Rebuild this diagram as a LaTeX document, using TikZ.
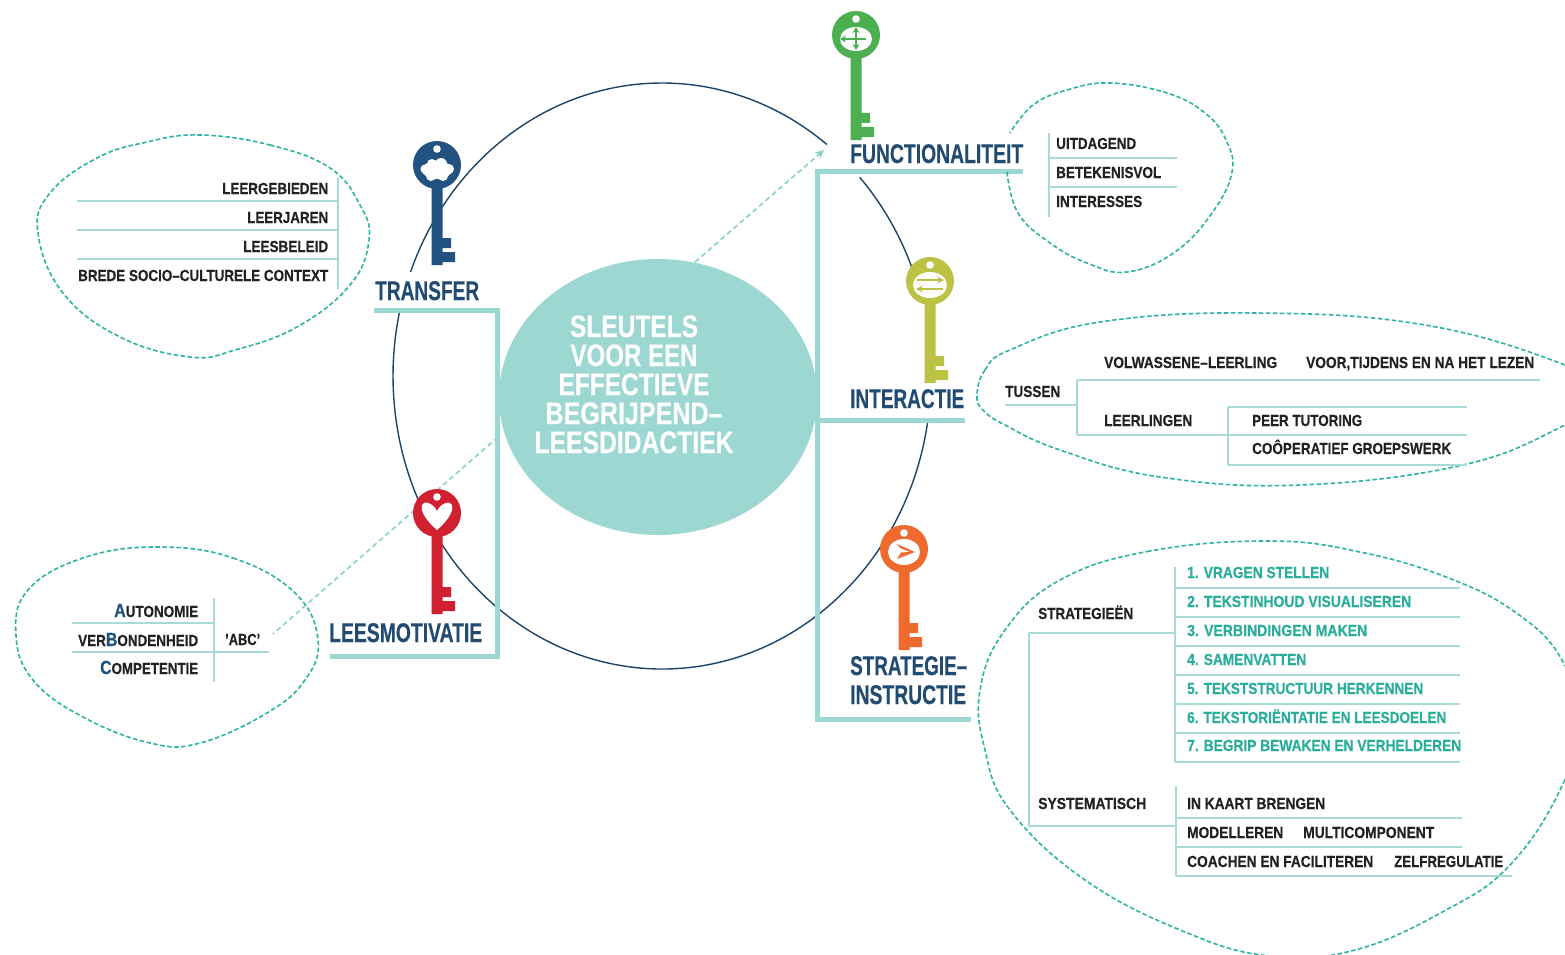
\documentclass[tikz,border=0pt]{standalone}
\usepackage{fontspec}
\usepackage{graphicx}
\setmainfont{Liberation Sans}[BoldFont={* Bold},BoldFeatures={FakeBold=0.35}]
\usetikzlibrary{arrows.meta,shapes.geometric}
\definecolor{aqua}{HTML}{9CD7D2}
\definecolor{rulec}{HTML}{A6DAD6}
\definecolor{dashc}{HTML}{2DB3A3}
\definecolor{linkc}{HTML}{86D0C6}
\definecolor{navy}{HTML}{224B72}
\definecolor{ringc}{HTML}{1F4468}
\definecolor{ink}{HTML}{222222}
\definecolor{tealtx}{HTML}{2AAE9C}
\definecolor{kgreen}{HTML}{4CAF50}
\definecolor{knavy}{HTML}{22527F}
\definecolor{kolive}{HTML}{BCC244}
\definecolor{kred}{HTML}{D1202F}
\definecolor{korange}{HTML}{EE6A2E}
\tikzset{
  lab/.style={anchor=base west,inner sep=0pt,font=\bfseries\fontsize{16}{18}\selectfont},
  ttl/.style={lab,font=\bfseries\fontsize{27}{30}\selectfont,text=navy},
  thick line/.style={draw=aqua,line width=5pt,line cap=butt,line join=miter},
  rule/.style={draw=rulec,line width=1.5pt},
  blobline/.style={draw=dashc,line width=1.6pt,dash pattern=on 4.5pt off 2.5pt},
  blob/.style={blobline,smooth cycle,tension=.7},
  link/.style={draw=linkc,line width=1.6pt,dash pattern=on 5pt off 3.5pt},
}
\newcommand{\fitw}[2]{\resizebox{#1pt}{\height}{#2}}
\newcommand{\lbl}[6]{\node[lab,text=#5,yshift=1pt] (#1) at (#2,#3) {\fitw{#4}{#6}};}
\newcommand{\ttlbl}[5]{\node[ttl] (#1) at (#2,#3) {\fitw{#4}{#5}};}
\newcommand{\bigc}[1]{{\color{knavy}\fontsize{19}{18}\selectfont #1}}
\newcommand{\drawkey}[5]{%
  \begin{scope}[shift={(#1,#2)}]
    \fill[#3] (0,0) circle[radius=24];
    \fill[#3] (-5.5,0) -- (-5.5,#4) -- (5.5,#4) -- (5.5,#4-3) -- (18,#4-3) -- (18,#4-13)
      -- (5.5,#4-13) -- (5.5,#4-17) -- (14,#4-17) -- (14,#4-27) -- (5.5,#4-27) -- (5.5,0) -- cycle;
    \fill[white] (0,-16) circle[radius=3.8];
    #5
  \end{scope}}
\begin{document}
\begin{tikzpicture}[x=1pt,y=-1pt]
\useasboundingbox (0,0) rectangle (1565,955);
\clip (0,0) rectangle (1565,955);
\fill[white] (0,0) rectangle (1565,955);

% large ring, interrupted at the labels
\coordinate (ring) at (662,376);
\begin{scope}[draw=ringc,line width=1.4pt]
  \draw (ring) ++(-42.7:269 and 293) arc[start angle=-42.7,end angle=-15,x radius=269,y radius=293];
  \draw (ring) ++(8.6:269 and 293) arc[start angle=8.6,end angle=192.8,x radius=269,y radius=293];
  \draw (ring) ++(200.8:269 and 293) arc[start angle=200.8,end angle=307.8,x radius=269,y radius=293];
\end{scope}

% dashed links
\coordinate (linkAstart) at (695,262);
\coordinate (linkAend) at (824,150);
\coordinate (linkBstart) at (498,437);
\coordinate (linkBend) at (273,634);
\draw[link,-{Stealth[length=9pt,width=8pt]}] (linkAstart) -- (linkAend);
\draw[link] (linkBstart) -- (linkBend);

% centre
\node[ellipse,fill=aqua,minimum width=318pt,minimum height=276pt,inner sep=0pt] (core) at (658,397) {};
\node[align=center,inner sep=0pt,text=white,anchor=base,font=\bfseries\fontsize{31}{29}\selectfont] (coretext) at (634,453)
  {\fitw{128}{SLEUTELS}\\\fitw{127}{VOOR EEN}\\\fitw{151}{EFFECTIEVE}\\\fitw{177}{BEGRIJPEND–}\\\fitw{199}{LEESDIDACTIEK}};

% thick brackets
\coordinate (ta) at (374,310); \coordinate (tb) at (497,310);
\coordinate (tc) at (497,656); \coordinate (td) at (330,656);
\draw[thick line] (ta) -- (tb) -- (tc) -- (td);
\coordinate (ra) at (1023,171); \coordinate (rb) at (817,171);
\coordinate (rc) at (817,719); \coordinate (rd) at (971,719);
\coordinate (re) at (817,420); \coordinate (rf) at (965,420);
\draw[thick line] (ra) -- (rb) -- (rc) -- (rd);
\draw[thick line] (re) -- (rf);

% titles
\ttlbl{tTransfer}{375}{300}{104}{TRANSFER}
\ttlbl{tFunc}{850}{163}{173}{FUNCTIONALITEIT}
\ttlbl{tInter}{850}{408}{114}{INTERACTIE}
\ttlbl{tMotiv}{329}{642}{153}{LEESMOTIVATIE}
\ttlbl{tStrat}{850}{675}{117}{STRATEGIE–}
\ttlbl{tInstr}{850}{704}{116}{INSTRUCTIE}

% keys
\drawkey{856}{35}{kgreen}{105}{%
  \fill[white] (0,4) ellipse[x radius=16,y radius=12];
  \draw[kgreen,line width=1.2pt,-{Stealth[length=6pt,width=7pt]}] (0,4) -- (-16,4);
  \draw[kgreen,line width=1.2pt] (0,4) -- (10,4);
  \draw[kgreen,line width=1.2pt,-{Stealth[length=6pt,width=7pt]}] (0,4) -- (0,-8);
  \draw[kgreen,line width=1.2pt,-{Stealth[length=6pt,width=7pt]}] (0,4) -- (0,15);
}
\drawkey{437}{165}{knavy}{100}{%
  \fill[white] (0,5) ellipse[x radius=15,y radius=9];
  \fill[white] (-5,-1) circle[radius=5]; \fill[white] (4,-1) circle[radius=6];
  \fill[white] (-12,4) circle[radius=4.5]; \fill[white] (12,4) circle[radius=5];
  \fill[white] (-6,11) circle[radius=5]; \fill[white] (6,11) circle[radius=5];
}
\drawkey{437}{513}{kred}{101}{%
  \fill[white] (0,17) .. controls (-8,10) and (-17,0) .. (-15,-8)
    .. controls (-13,-13) and (-4,-10) .. (0,-2)
    .. controls (4,-10) and (13,-13) .. (15,-8)
    .. controls (17,0) and (8,10) .. (0,17) -- cycle;
}
\drawkey{930}{281}{kolive}{102}{%
  \fill[white] (0,4) ellipse[x radius=17,y radius=13];
  \draw[kolive,line width=1.2pt,-{Stealth[length=7pt,width=7pt]}] (-13,-1) -- (14,-1);
  \draw[kolive,line width=1.2pt,-{Stealth[length=7pt,width=7pt]}] (13,8) -- (-14,8);
}
\drawkey{904}{549}{korange}{101}{%
  \fill[white] (0,3) ellipse[x radius=16,y radius=13];
  \fill[korange] (-7,-5) -- (11,3) -- (-7,10) -- (-3,3.5) -- (6,3) -- (-4,-1) -- cycle;
}

% cloud: transfer
\draw[blob] plot coordinates {(200,135)(270,145)(330,168)(360,205)(369,240)(350,285)(297,327)(235,350)(190,357)(120,337)(63,293)(38,233)(50,193)(97,158)(147,142)};
\draw[rule] (338,178) -- (338,289);
\draw[rule] (77,201) -- (338,201);
\draw[rule] (77,230) -- (338,230);
\draw[rule] (77,259) -- (338,259);
\lbl{a1}{222}{195}{106}{ink}{LEERGEBIEDEN}
\lbl{a2}{247}{224}{81}{ink}{LEERJAREN}
\lbl{a3}{243}{253}{85}{ink}{LEESBELEID}
\lbl{a4}{78}{282}{250}{ink}{BREDE SOCIO–CULTURELE CONTEXT}

% cloud: functionaliteit
\draw[blobline,smooth,tension=.7] plot coordinates {(1007,172)(1018,213)(1050,243)(1087,263)(1127,272)(1175,252)(1212,213)(1232,172)(1226,140)(1205,113)(1167,93)(1110,83)(1067,90)(1033,105)(1010,133)};
\draw[rule] (1049,133) -- (1049,217);
\draw[rule] (1049,158) -- (1177,158);
\draw[rule] (1049,187) -- (1177,187);
\lbl{b1}{1056}{150}{80}{ink}{UITDAGEND}
\lbl{b2}{1056}{179}{105}{ink}{BETEKENISVOL}
\lbl{b3}{1056}{208}{86}{ink}{INTERESSES}

% cloud: interactie
\draw[blob] plot coordinates {(977,395)(985,370)(1010,350)(1100,322)(1255,313)(1425,325)(1565,365)(1610,395)(1565,425)(1463,465)(1300,485)(1160,477)(1060,450)(1005,425)(983,410)};
\draw[rule] (1077,380) -- (1540,380);
\draw[rule] (1005,405) -- (1077,405);
\draw[rule] (1077,380) -- (1077,435);
\draw[rule] (1077,435) -- (1467,435);
\draw[rule] (1228,407) -- (1228,465);
\draw[rule] (1228,407) -- (1467,407);
\draw[rule] (1228,465) -- (1467,465);
\lbl{c1}{1104}{369}{173}{ink}{VOLWASSENE–LEERLING}
\lbl{c2}{1306}{369}{228}{ink}{VOOR,TIJDENS EN NA HET LEZEN}
\lbl{c3}{1005}{398}{55}{ink}{TUSSEN}
\lbl{c4}{1104}{427}{88}{ink}{LEERLINGEN}
\lbl{c5}{1252}{427}{110}{ink}{PEER TUTORING}
\lbl{c6}{1252}{455}{199}{ink}{COÔPERATIEF GROEPSWERK}

% cloud: strategie-instructie
\draw[blob] plot coordinates {(1270,541)(1150,551)(1060,580)(1005,630)(980,690)(985,750)(1010,810)(1085,880)(1185,932)(1270,956)(1355,950)(1446,910)(1510,865)(1560,790)(1578,725)(1562,660)(1515,612)(1446,577)(1360,552)};
\draw[rule] (1175,567) -- (1175,762);
\foreach \yy in {588,617,646,675,704,733,762} \draw[rule] (1175,\yy) -- (1460,\yy);
\lbl{d1}{1187}{579}{142}{tealtx}{1. VRAGEN STELLEN}
\lbl{d2}{1187}{608}{224}{tealtx}{2. TEKSTINHOUD VISUALISEREN}
\lbl{d3}{1187}{637}{180}{tealtx}{3. VERBINDINGEN MAKEN}
\lbl{d4}{1187}{666}{119}{tealtx}{4. SAMENVATTEN}
\lbl{d5}{1187}{695}{236}{tealtx}{5. TEKSTSTRUCTUUR HERKENNEN}
\lbl{d6}{1187}{724}{259}{tealtx}{6. TEKSTORIËNTATIE EN LEESDOELEN}
\lbl{d7}{1187}{752}{274}{tealtx}{7. BEGRIP BEWAKEN EN VERHELDEREN}
\lbl{d8}{1038}{620}{95}{ink}{STRATEGIEËN}
\lbl{d9}{1038}{810}{108}{ink}{SYSTEMATISCH}
\draw[rule] (1029,633) -- (1175,633);
\draw[rule] (1029,633) -- (1029,826);
\draw[rule] (1029,826) -- (1176,826);
\draw[rule] (1176,786) -- (1176,876);
\draw[rule] (1176,818) -- (1462,818);
\draw[rule] (1176,847) -- (1462,847);
\draw[rule] (1176,876) -- (1512,876);
\lbl{e1}{1187}{810}{138}{ink}{IN KAART BRENGEN}
\lbl{e2}{1187}{839}{96}{ink}{MODELLEREN}
\lbl{e3}{1303}{839}{131}{ink}{MULTICOMPONENT}
\lbl{e4}{1187}{868}{186}{ink}{COACHEN EN FACILITEREN}
\lbl{e5}{1394}{868}{109}{ink}{ZELFREGULATIE}

% cloud: leesmotivatie
\draw[blob] plot coordinates {(157,547)(233,558)(295,593)(318,640)(305,680)(267,713)(200,743)(150,743)(83,717)(33,680)(16,635)(28,590)(83,558)};
\draw[rule] (72,623) -- (214,623);
\draw[rule] (72,652) -- (269,652);
\draw[rule] (214,598) -- (214,682);
\lbl{f1}{114}{618}{84}{ink}{\bigc{A}UTONOMIE}
\lbl{f2}{78}{647}{120}{ink}{VER\bigc{B}ONDENHEID}
\lbl{f3}{100}{675}{98}{ink}{\bigc{C}OMPETENTIE}
\lbl{f4}{225}{646}{35}{ink}{'ABC'}
\end{tikzpicture}
\end{document}
